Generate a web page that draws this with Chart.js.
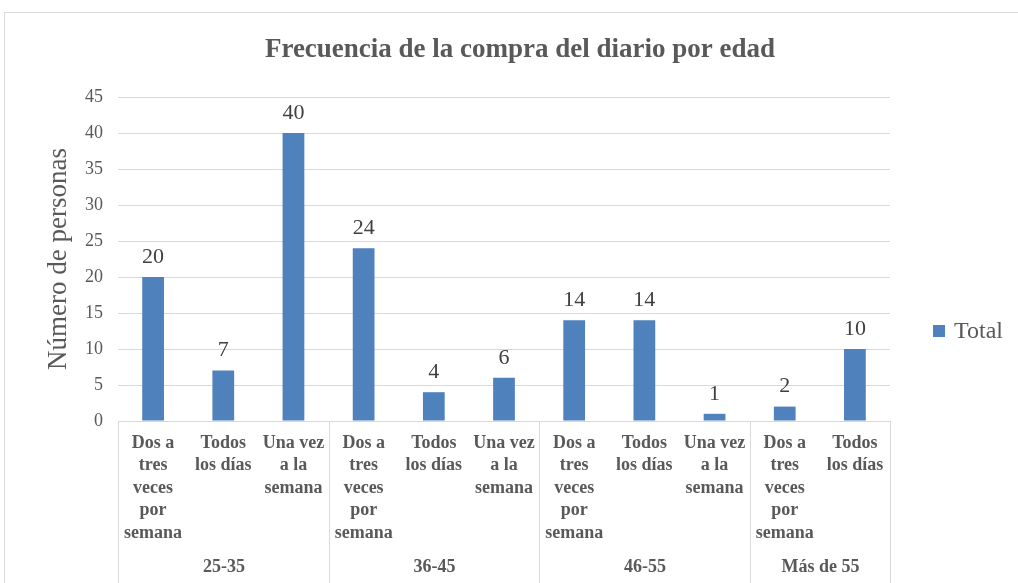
<!DOCTYPE html>
<html>
<head>
<meta charset="utf-8">
<script src="https://cdn.jsdelivr.net/npm/chart.js@4/dist/chart.umd.min.js"></script>
<style>
  html, body { margin: 0; padding: 0; background: #ffffff; }
  #wrap { width: 1018px; height: 583px; }
</style>
</head>
<body>
<div id="wrap"><canvas id="chart"></canvas></div>
<script>
// Frecuencia de la compra del diario por edad

const chartTitle = "Frecuencia de la compra del diario por edad"
const ageGroups = ["25-35", "36-45", "46-55", "Más de 55"]
const groupSizes = [3, 3, 3, 2]
const frequencies = [
  ["Dos a", "tres", "veces", "por", "semana"],
  ["Todos", "los días"],
  ["Una vez", "a la", "semana"],
  ["Dos a", "tres", "veces", "por", "semana"],
  ["Todos", "los días"],
  ["Una vez", "a la", "semana"],
  ["Dos a", "tres", "veces", "por", "semana"],
  ["Todos", "los días"],
  ["Una vez", "a la", "semana"],
  ["Dos a", "tres", "veces", "por", "semana"],
  ["Todos", "los días"],
]
const totals = [20, 7, 40, 24, 4, 6, 14, 14, 1, 2, 10]
const yTicks = [0, 5, 10, 15, 20, 25, 30, 35, 40, 45]

const FONT = "'Liberation Serif', 'DejaVu Serif', serif"
const GRAY = "#595959"
const LINE = "#d9d9d9"
const BLUE = "#4f81bd"

const decorations = {
  id: "decorations",
  beforeDraw(chart) {
    const ctx = chart.ctx
    ctx.save()
    ctx.fillStyle = "#ffffff"
    ctx.fillRect(0, 0, chart.width, chart.height)
    ctx.strokeStyle = LINE
    ctx.lineWidth = 1
    ctx.strokeRect(4.5, 12.5, chart.width + 20, chart.height + 20)
    ctx.restore()
  },
  afterDraw(chart) {
    const ctx = chart.ctx
    const x = chart.scales.x
    const area = chart.chartArea
    const half = (x.getPixelForValue(1) - x.getPixelForValue(0)) / 2

    ctx.save()

    // title
    ctx.font = "bold 27px " + FONT
    ctx.fillStyle = GRAY
    ctx.textAlign = "center"
    ctx.textBaseline = "middle"
    ctx.fillText(chartTitle, 520, 50)

    // value labels above the bars
    const meta = chart.getDatasetMeta(0)
    ctx.font = "22px " + FONT
    ctx.fillStyle = "#404040"
    ctx.textBaseline = "bottom"
    meta.data.forEach((bar, i) => {
      ctx.fillText(String(totals[i]), bar.x, bar.y - 9)
    })

    // group separators and age group labels
    ctx.strokeStyle = LINE
    ctx.lineWidth = 1
    ctx.font = "bold 18px " + FONT
    ctx.fillStyle = GRAY
    ctx.textBaseline = "middle"
    let start = 0
    ageGroups.forEach((group, g) => {
      const end = start + groupSizes[g] - 1
      const left = Math.round(x.getPixelForValue(start) - half) + 0.5
      const right = Math.round(x.getPixelForValue(end) + half) + 0.5
      ctx.beginPath()
      ctx.moveTo(left, area.bottom)
      ctx.lineTo(left, chart.height)
      if (g === ageGroups.length - 1) {
        ctx.moveTo(right, area.bottom)
        ctx.lineTo(right, chart.height)
      }
      ctx.stroke()
      ctx.fillText(group, (left + right) / 2, 567)
      start = end + 1
    })

    // legend
    const ds = chart.data.datasets[0]
    ctx.fillStyle = BLUE
    ctx.fillRect(933, 325, 12, 12)
    ctx.fillStyle = GRAY
    ctx.font = "24px " + FONT
    ctx.textAlign = "left"
    ctx.fillText(ds.label, 954, 332)

    ctx.restore()
  },
}

const ctx = document.getElementById("chart")

new Chart(ctx, {
  type: "bar",
  data: {
    labels: frequencies,
    datasets: [
      {
        label: "Total",
        data: totals,
        backgroundColor: BLUE,
        borderWidth: 0,
        categoryPercentage: 1,
        barPercentage: 0.31,
      },
    ],
  },
  plugins: [decorations],
  options: {
    responsive: true,
    maintainAspectRatio: false,
    animation: false,
    layout: {
      padding: { left: 0, right: 128, top: 97, bottom: 0 },
    },
    plugins: {
      legend: { display: false },
      tooltip: { enabled: false },
      title: { display: false },
    },
    scales: {
      x: {
        grid: { display: false, drawTicks: false },
        border: { display: true, color: LINE, width: 1 },
        ticks: {
          color: GRAY,
          font: { family: FONT, size: 18, weight: "bold", lineHeight: 1.25 },
          padding: 11,
          maxRotation: 0,
          autoSkip: false,
        },
        afterFit(scale) {
          scale.height = 162
        },
      },
      y: {
        min: 0,
        max: 45,
        afterBuildTicks(scale) {
          scale.ticks = yTicks.map((v) => ({ value: v }))
        },
        grid: { color: LINE, drawTicks: false },
        border: { display: false },
        ticks: {
          color: GRAY,
          font: { family: FONT, size: 18 },
          padding: 15,
        },
        title: {
          display: true,
          text: "Número de personas",
          color: GRAY,
          font: { family: FONT, size: 27 },
          padding: { top: 43, bottom: 0 },
        },
        afterFit(scale) {
          scale.width = 118
        },
      },
    },
  },
})
</script>
</body>
</html>
